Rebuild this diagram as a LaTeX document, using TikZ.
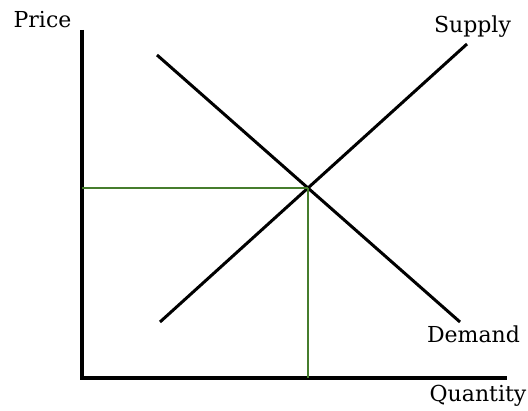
\documentclass[tikz,border=0pt]{standalone}
\usepackage{xcolor}
\usepackage{fontspec}
\setmainfont{DejaVu Serif}
\usetikzlibrary{calc}
\definecolor{eqgreen}{RGB}{70,125,45}

\begin{document}
\begin{tikzpicture}[x=1pt, y=-1pt, every node/.style={font=\fontsize{22}{25}\selectfont, inner sep=0pt, anchor=base}]
  \useasboundingbox (0,0) rectangle (528,411);
  % axes
  \coordinate (origin) at (82,378);
  \coordinate (ytop) at (82,30);
  \coordinate (xend) at (507,378);
  \draw[line width=3.2pt] (ytop) -- (origin) -- (xend);
  % supply and demand
  \coordinate (slow) at (160,322);
  \coordinate (shigh) at (467,44);
  \coordinate (dhigh) at (157,55);
  \coordinate (dlow) at (460,322);
  \draw[line width=3pt] (slow) -- (shigh);
  \draw[line width=3pt] (dhigh) -- (dlow);
  % equilibrium
  \coordinate (eq) at (308,188);
  \draw[eqgreen, line width=1.6pt] (eq) -- (eq -| origin);
  \draw[eqgreen, line width=1.6pt] (eq) -- (eq |- origin);
  % labels
  \node (price) at (42.5,28) {Price};
  \node (supply) at (472.5,33) {Supply};
  \node (demand) at (473.5,343) {Demand};
  \node (quantity) at (478,402) {Quantity};
\end{tikzpicture}
\end{document}
